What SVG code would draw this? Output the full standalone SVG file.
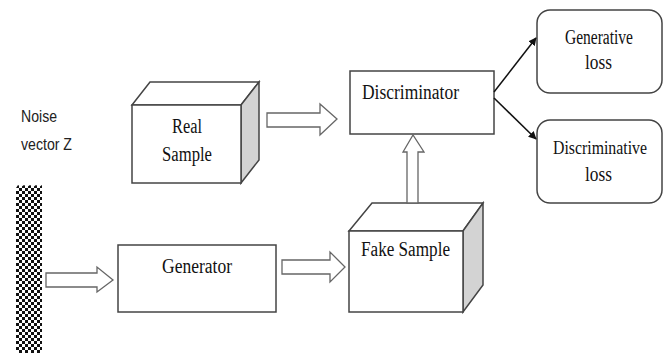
<svg xmlns="http://www.w3.org/2000/svg" width="670" height="354" viewBox="0 0 670 354">
<defs>
<pattern id="chk" x="16" y="185" width="6" height="6" patternUnits="userSpaceOnUse">
<rect width="6" height="6" fill="#fff"/>
<rect width="3" height="3" fill="#111"/>
<rect x="3" y="3" width="3" height="3" fill="#111"/>
</pattern>
<marker id="ah" viewBox="0 0 10 10" refX="9" refY="5" markerWidth="8" markerHeight="8" markerUnits="userSpaceOnUse" orient="auto">
<path d="M0,0 L10,5 L0,10 z" fill="#111"/>
</marker>
</defs>
<style>
.t{font-family:"Liberation Serif","Times New Roman",serif;font-size:20px;fill:#111}
.s{font-family:"Liberation Sans",Arial,sans-serif;font-size:17px;fill:#222}
.box{fill:#fff;stroke:#444;stroke-width:1.5}
.side{fill:#d3d3d3;stroke:#444;stroke-width:1.5}
.hol{fill:#fff;stroke:#666;stroke-width:1.3}
.ln{stroke:#111;stroke-width:1.5;fill:none}
</style>
<rect width="670" height="354" fill="#fff"/>

<g id="noise">
<text class="s" x="21" y="122" textLength="36" lengthAdjust="spacingAndGlyphs">Noise</text>
<text class="s" x="21" y="150" textLength="51" lengthAdjust="spacingAndGlyphs">vector Z</text>
<path d="M16,188 L18,185 L21,187 L24,185 L27,187 L30,185 L33,187 L36,185 L39,187 L42,185 L42,353 L16,353 Z" fill="url(#chk)"/>
</g>

<g id="real-sample">
<path class="box" d="M132,105 L150,82 L259,82 L241,105 Z"/>
<path class="side" d="M241,105 L259,82 L259,160 L241,183 Z"/>
<rect class="box" x="132" y="105" width="109" height="78"/>
<text class="t" x="187" y="133" text-anchor="middle" textLength="30" lengthAdjust="spacingAndGlyphs">Real</text>
<text class="t" x="187" y="161" text-anchor="middle" textLength="50" lengthAdjust="spacingAndGlyphs">Sample</text>
</g>

<g id="discriminator">
<rect class="box" x="350" y="71" width="144" height="63"/>
<text class="t" x="410.5" y="99" text-anchor="middle" textLength="97" lengthAdjust="spacingAndGlyphs">Discriminator</text>
</g>

<g id="generative-loss">
<rect class="box" x="537" y="10" width="125" height="83" rx="13"/>
<text class="t" x="599" y="44" text-anchor="middle" textLength="68" lengthAdjust="spacingAndGlyphs">Generative</text>
<text class="t" x="598.5" y="69" text-anchor="middle" textLength="27" lengthAdjust="spacingAndGlyphs">loss</text>
</g>

<g id="discriminative-loss">
<rect class="box" x="537" y="120" width="125" height="83" rx="13"/>
<text class="t" x="600" y="154" text-anchor="middle" style="font-size:18px" textLength="94" lengthAdjust="spacingAndGlyphs">Discriminative</text>
<text class="t" x="598.5" y="181" text-anchor="middle" textLength="27" lengthAdjust="spacingAndGlyphs">loss</text>
</g>

<g id="generator">
<rect class="box" x="118" y="245" width="158" height="67"/>
<text class="t" x="197" y="273" text-anchor="middle" textLength="70" lengthAdjust="spacingAndGlyphs">Generator</text>
</g>

<g id="fake-sample">
<path class="box" d="M349,231 L372,203 L483,203 L463,231 Z"/>
<path class="side" d="M463,231 L483,203 L483,285 L463,312 Z"/>
<rect class="box" x="349" y="231" width="114" height="81"/>
<text class="t" x="405.5" y="256" text-anchor="middle" textLength="89" lengthAdjust="spacingAndGlyphs">Fake Sample</text>
</g>

<g id="connectors">
<path class="hol" d="M46,273 L97,273 L97,267 L113,280 L97,292 L97,287 L46,287 Z"/>
<path class="hol" d="M282,260 L330,260 L330,252 L345,267 L330,282 L330,274 L282,274 Z"/>
<path class="hol" d="M267,113 L320,113 L320,104 L337,119 L320,135 L320,127 L267,127 Z"/>
<path class="hol" d="M407,203 L407,152 L403,152 L413,135 L424,152 L418,152 L418,203 Z"/>
<line class="ln" x1="494" y1="92" x2="536" y2="38" marker-end="url(#ah)"/>
<line class="ln" x1="494" y1="98" x2="536" y2="139" marker-end="url(#ah)"/>
</g>
</svg>
